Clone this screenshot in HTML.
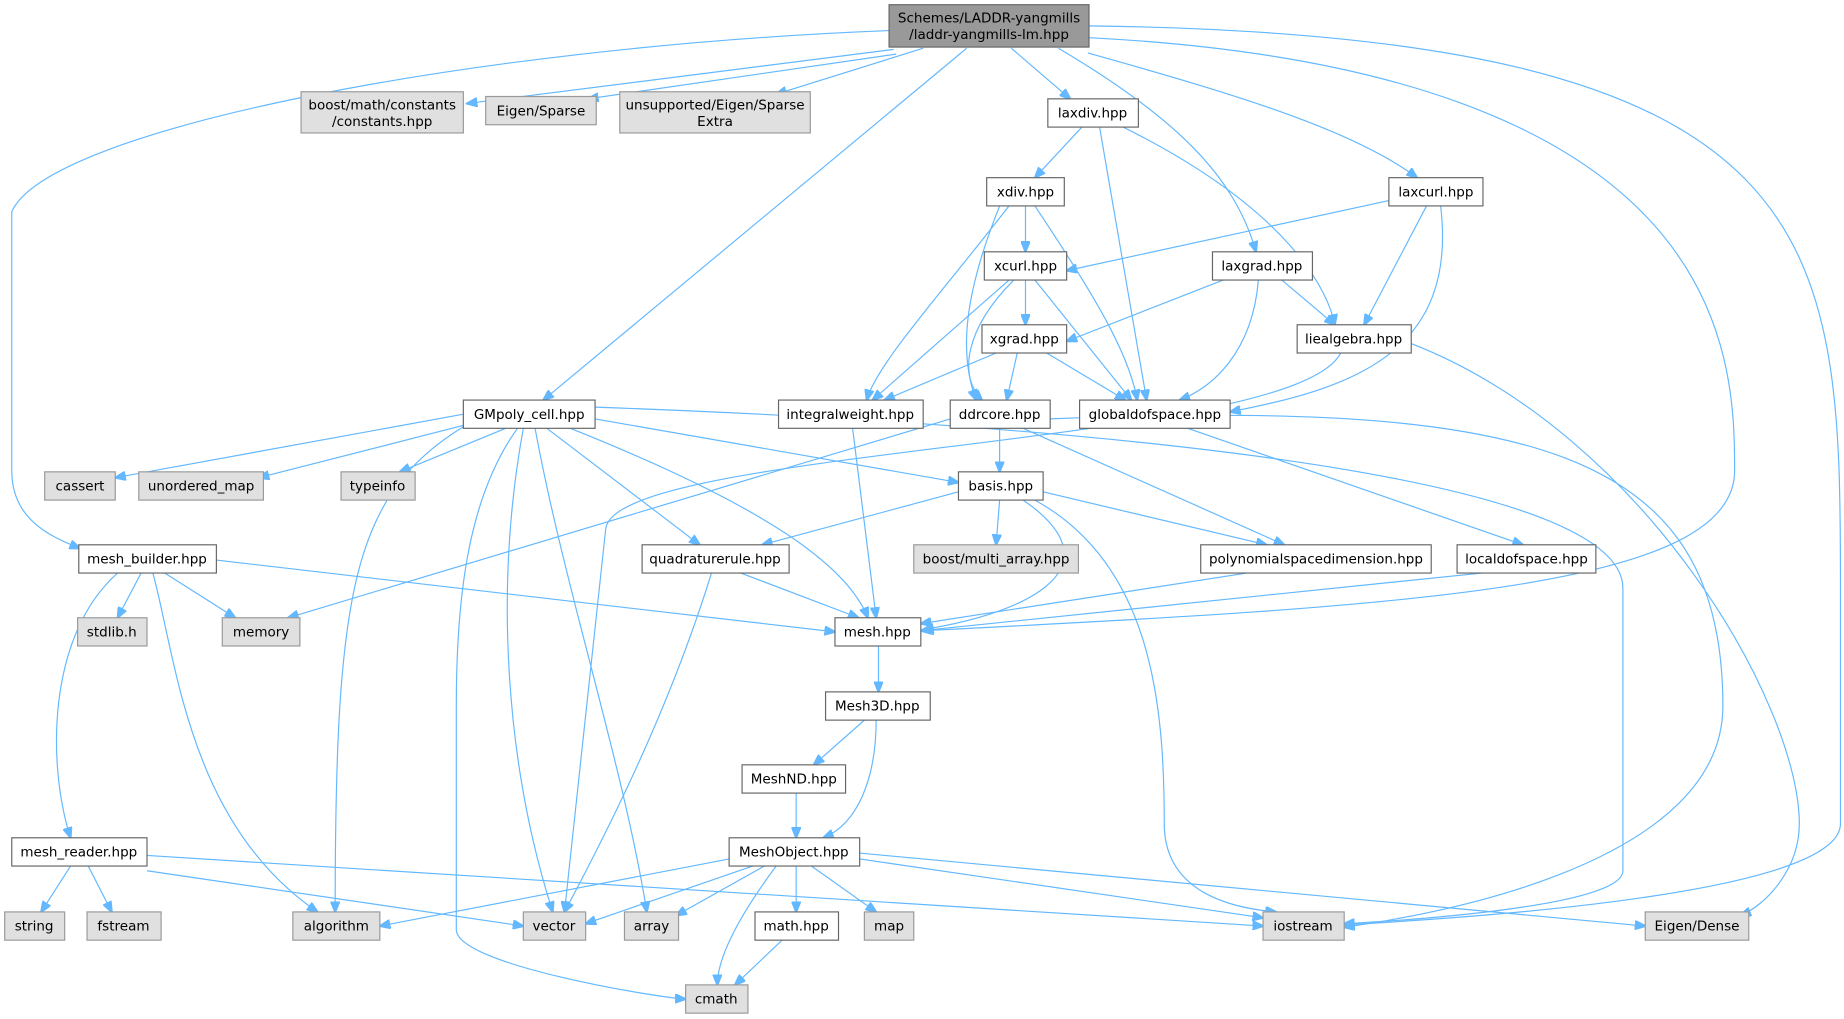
<!DOCTYPE html>
<html><head><meta charset="utf-8"><style>
html,body{margin:0;padding:0;background:#fff;}
svg{display:block}
text{font-family:"DejaVu Sans","Liberation Sans",sans-serif;font-size:11.5px;fill:#000;text-anchor:middle}
.w{fill:#fff;stroke:#666;stroke-width:1}
.g{fill:#e0e0e0;stroke:#999;stroke-width:1}
.r{fill:#999;stroke:#666;stroke-width:1}
path{fill:none;stroke:#63b8ff;stroke-width:1}
</style></head><body>
<svg width="1844" height="1019" viewBox="0 0 1568 866" preserveAspectRatio="none">
<defs><marker id="a" markerWidth="10" markerHeight="8" refX="9" refY="4" orient="auto" markerUnits="userSpaceOnUse"><path d="M0,0 L10,4 L0,8 Z" style="fill:#63b8ff;stroke:#63b8ff"/></marker></defs>
<g marker-end="url(#a)">
<path d="M756,26 C400,40 40,110 10,180 L10,400 C10,440 40,455 68,466"/>
<path d="M760,42 L397,88"/>
<path d="M762,46 L500,84"/>
<path d="M785,41 L660,80"/>
<path d="M822,41 L462,340"/>
<path d="M860,41 L910,84"/>
<path d="M900,41 C1000,100 1050,150 1068,214"/>
<path d="M925,45 C1050,80 1150,110 1205,151"/>
<path d="M926,32 C1470,60 1475,300 1475,400 C1475,500 1200,515 785,536"/>
<path d="M926,22 C1560,30 1565,200 1565,500 L1565,700 C1565,760 1250,780 1143,786"/>
<path d="M920,108 L880,151"/>
<path d="M935,108 L975,340"/>
<path d="M955,108 C1100,180 1130,250 1135,276"/>
<path d="M872,175 L872,214"/>
<path d="M858,175 C800,250 745,310 737,340"/>
<path d="M850,175 C820,250 815,300 830,340"/>
<path d="M880,175 C930,250 960,300 967,340"/>
<path d="M1183,170 L907,230"/>
<path d="M1213,175 L1160,276"/>
<path d="M1225,175 C1240,300 1150,330 1046,350"/>
<path d="M872,238 L872,276"/>
<path d="M858,238 L742,340"/>
<path d="M862,238 C820,280 815,320 835,340"/>
<path d="M880,238 L962,340"/>
<path d="M1040,238 L907,290"/>
<path d="M1090,238 L1135,276"/>
<path d="M1070,238 C1065,300 1030,330 1003,340"/>
<path d="M847,300 L752,340"/>
<path d="M865,300 L856,340"/>
<path d="M890,300 L957,340"/>
<path d="M1140,300 C1100,380 520,380 515,450 L480,775"/>
<path d="M1200,292 C1400,370 1530,600 1530,700 C1530,740 1500,770 1480,778"/>
<path d="M725,364 L745,525"/>
<path d="M808,356 L245,525"/>
<path d="M850,364 L850,401"/>
<path d="M870,364 L1092,463"/>
<path d="M893,356 C1300,340 1465,380 1465,600 C1465,740 1200,780 1143,788"/>
<path d="M1010,364 L1295,463"/>
<path d="M394,352 L98,406"/>
<path d="M400,360 L220,406"/>
<path d="M430,364 L340,401"/>
<path d="M395,362 C300,420 285,500 285,775"/>
<path d="M440,364 C400,420 388,500 388,600 L388,790 C388,820 560,848 583,849"/>
<path d="M445,364 C420,500 430,650 470,775"/>
<path d="M455,364 C480,500 530,650 550,775"/>
<path d="M465,364 L595,463"/>
<path d="M485,364 C650,430 720,480 738,525"/>
<path d="M506,356 L815,410"/>
<path d="M506,346 C900,360 1380,400 1380,500 L1380,740 C1380,770 1200,782 1143,785"/>
<path d="M815,418 L648,463"/>
<path d="M850,425 L847,463"/>
<path d="M887,418 L1077,463"/>
<path d="M870,425 C950,480 880,520 785,535"/>
<path d="M880,425 C980,480 990,600 990,700 C990,760 1050,772 1085,775"/>
<path d="M120,487 L100,525"/>
<path d="M140,487 L200,525"/>
<path d="M184,476 L710,537"/>
<path d="M100,487 C40,540 40,650 60,712"/>
<path d="M130,487 C150,560 160,700 270,775"/>
<path d="M630,487 L730,525"/>
<path d="M605,487 C570,600 520,700 480,775"/>
<path d="M1060,487 L783,530"/>
<path d="M1260,487 L783,536"/>
<path d="M747,549 L747,588"/>
<path d="M735,612 L692,650"/>
<path d="M745,612 C745,660 730,700 700,712"/>
<path d="M677,674 L677,712"/>
<path d="M60,736 L35,775"/>
<path d="M75,736 L95,775"/>
<path d="M125,740 L445,787"/>
<path d="M125,727 L1074,787"/>
<path d="M620,730 L323,787"/>
<path d="M640,736 L498,785"/>
<path d="M650,736 L575,778"/>
<path d="M660,736 C620,790 610,820 610,837"/>
<path d="M677,736 L677,775"/>
<path d="M690,736 L745,775"/>
<path d="M731,730 L1074,780"/>
<path d="M731,725 L1399,787"/>
<path d="M665,799 L625,837"/>
</g>
<rect class="r" x="756" y="4" width="170" height="36"/><text x="841" y="19">Schemes/LADDR-yangmills</text><text x="841" y="33">/laddr-yangmills-lm.hpp</text>
<rect class="g" x="256" y="78" width="138" height="35"/><text x="325" y="93">boost/math/constants</text><text x="325" y="107">/constants.hpp</text>
<rect class="g" x="413" y="82" width="94" height="24"/><text x="460" y="98">Eigen/Sparse</text>
<rect class="g" x="527" y="78" width="162" height="35"/><text x="608" y="93">unsupported/Eigen/Sparse</text><text x="608" y="107">Extra</text>
<g>
<rect class="w" x="891" y="84" width="77" height="24"/><text x="929" y="100">laxdiv.hpp</text>
<rect class="w" x="839" y="151" width="66" height="24"/><text x="872" y="167">xdiv.hpp</text>
<rect class="w" x="1181" y="151" width="80" height="24"/><text x="1221" y="167">laxcurl.hpp</text>
<rect class="w" x="837" y="214" width="70" height="24"/><text x="872" y="230">xcurl.hpp</text>
<rect class="w" x="1031" y="214" width="85" height="24"/><text x="1073" y="230">laxgrad.hpp</text>
<rect class="w" x="835" y="276" width="72" height="24"/><text x="871" y="292">xgrad.hpp</text>
<rect class="w" x="1103" y="276" width="97" height="24"/><text x="1151" y="292">liealgebra.hpp</text>
<rect class="w" x="394" y="340" width="112" height="24"/><text x="450" y="356">GMpoly_cell.hpp</text>
<rect class="w" x="662" y="340" width="123" height="24"/><text x="723" y="356">integralweight.hpp</text>
<rect class="w" x="808" y="340" width="85" height="24"/><text x="850" y="356">ddrcore.hpp</text>
<rect class="w" x="918" y="340" width="128" height="24"/><text x="982" y="356">globaldofspace.hpp</text>
<rect class="g" x="38" y="401" width="60" height="24"/><text x="68" y="417">cassert</text>
<rect class="g" x="118" y="401" width="106" height="24"/><text x="171" y="417">unordered_map</text>
<rect class="g" x="290" y="401" width="63" height="24"/><text x="321" y="417">typeinfo</text>
<rect class="w" x="815" y="401" width="72" height="24"/><text x="851" y="417">basis.hpp</text>
<rect class="w" x="67" y="463" width="117" height="24"/><text x="125" y="479">mesh_builder.hpp</text>
<rect class="w" x="546" y="463" width="125" height="24"/><text x="608" y="479">quadraturerule.hpp</text>
<rect class="g" x="777" y="463" width="140" height="24"/><text x="847" y="479">boost/multi_array.hpp</text>
<rect class="w" x="1021" y="463" width="196" height="24"/><text x="1119" y="479">polynomialspacedimension.hpp</text>
<rect class="w" x="1239" y="463" width="118" height="24"/><text x="1298" y="479">localdofspace.hpp</text>
<rect class="g" x="66" y="525" width="59" height="24"/><text x="95" y="541">stdlib.h</text>
<rect class="g" x="189" y="525" width="66" height="24"/><text x="222" y="541">memory</text>
<rect class="w" x="710" y="525" width="73" height="24"/><text x="746" y="541">mesh.hpp</text>
<rect class="w" x="702" y="588" width="89" height="24"/><text x="746" y="604">Mesh3D.hpp</text>
<rect class="w" x="631" y="650" width="88" height="24"/><text x="675" y="666">MeshND.hpp</text>
<rect class="w" x="10" y="712" width="115" height="24"/><text x="67" y="728">mesh_reader.hpp</text>
<rect class="w" x="620" y="712" width="111" height="24"/><text x="675" y="728">MeshObject.hpp</text>
<rect class="g" x="4" y="775" width="51" height="24"/><text x="29" y="791">string</text>
<rect class="g" x="74" y="775" width="63" height="24"/><text x="105" y="791">fstream</text>
<rect class="g" x="249" y="775" width="74" height="24"/><text x="286" y="791">algorithm</text>
<rect class="g" x="445" y="775" width="53" height="24"/><text x="471" y="791">vector</text>
<rect class="g" x="531" y="775" width="46" height="24"/><text x="554" y="791">array</text>
<rect class="w" x="642" y="775" width="71" height="24"/><text x="677" y="791">math.hpp</text>
<rect class="g" x="735" y="775" width="42" height="24"/><text x="756" y="791">map</text>
<rect class="g" x="1074" y="775" width="69" height="24"/><text x="1108" y="791">iostream</text>
<rect class="g" x="1399" y="775" width="88" height="24"/><text x="1443" y="791">Eigen/Dense</text>
<rect class="g" x="583" y="837" width="53" height="24"/><text x="609" y="853">cmath</text>
</g>
</svg>
</body></html>
